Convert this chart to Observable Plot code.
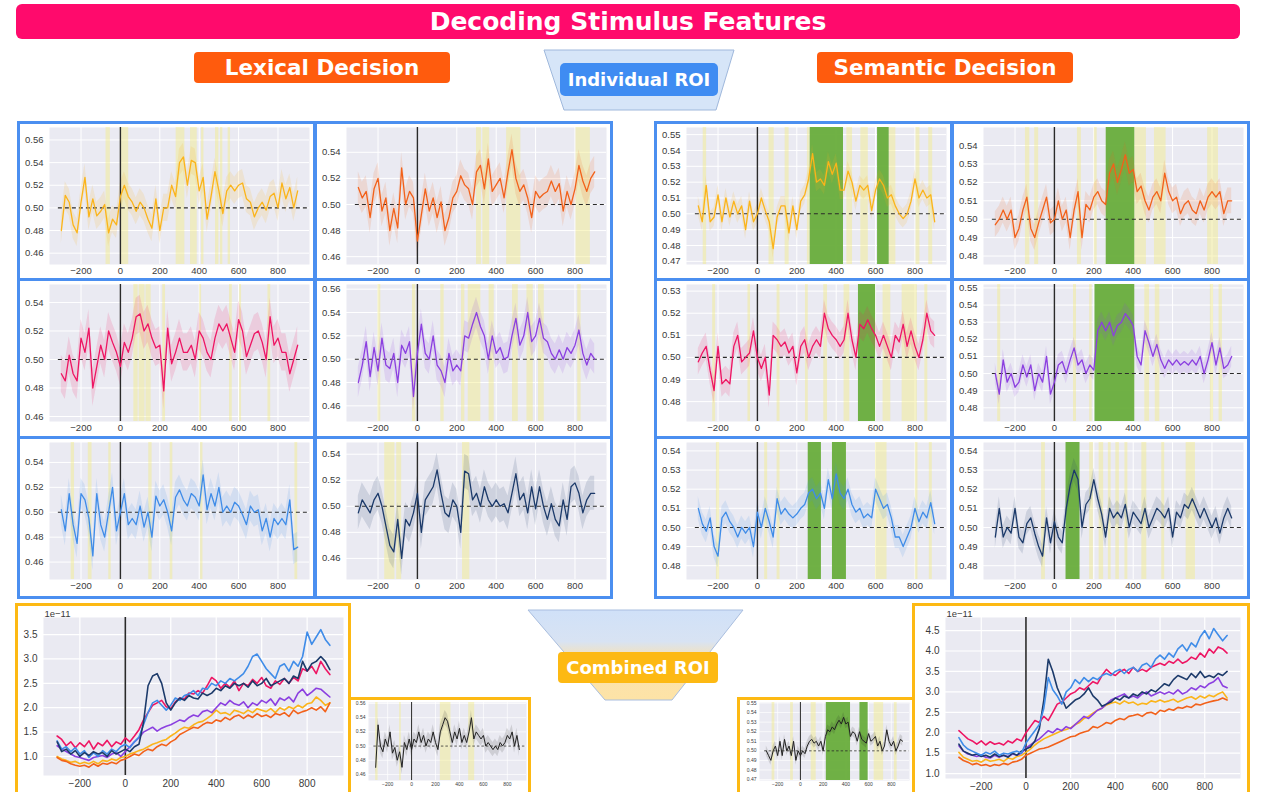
<!DOCTYPE html>
<html>
<head>
<meta charset="utf-8">
<script src="https://cdn.jsdelivr.net/npm/d3@7"></script>
<script src="https://cdn.jsdelivr.net/npm/@observablehq/plot@0.6"></script>
<style>
  body { margin: 0; background: #fff; }
  #page { position: relative; width: 1261px; height: 792px; overflow: hidden; background: #fff; }
  .tag { position: absolute; box-sizing: border-box; display: flex; align-items: center; justify-content: center;
         color: #fff; font-family: "DejaVu Sans", Verdana, sans-serif; font-weight: bold; white-space: nowrap; }
  .cell { position: absolute; box-sizing: border-box; background: #fff; }
</style>
</head>
<body>
<div id="page">
  <svg id="decor" width="1261" height="792" style="position:absolute;left:0;top:0">
    <defs>
      <linearGradient id="funnel" x1="0" y1="0" x2="0" y2="1">
        <stop offset="0" stop-color="#d0e1f8"/>
        <stop offset="0.35" stop-color="#d8e3f3"/>
        <stop offset="0.55" stop-color="#fbe2ae"/>
        <stop offset="1" stop-color="#fde3a6"/>
      </linearGradient>
    </defs>
    <polygon points="544,50 734,50 716,110 564,110" fill="#d6e5f8" stroke="#9fb8dc" stroke-width="1"/>
    <polygon points="528,610 743,610 672,700 605,700" fill="url(#funnel)" stroke="#a9bedf" stroke-width="1"/>
  </svg>
  <div class="tag" style="left:16px;top:4px;width:1224px;height:35px;background:#ff0a6c;border-radius:6px;font-size:25px">Decoding Stimulus Features</div>
  <div class="tag" style="left:194px;top:52px;width:256px;height:31px;background:#ff5b0d;border-radius:4px;font-size:21.5px">Lexical Decision</div>
  <div class="tag" style="left:817px;top:52px;width:256px;height:31px;background:#ff5b0d;border-radius:4px;font-size:21.5px">Semantic Decision</div>
  <div class="tag" style="left:560px;top:63px;width:158px;height:33px;background:#3f8cf2;border-radius:5px;font-size:18px">Individual ROI</div>
  <div class="tag" style="left:558px;top:652px;width:160px;height:31px;background:#fdb913;border-radius:4px;font-size:18px">Combined ROI</div>
</div>
<script>
// Sampling grid of the decoding time courses (ms relative to stimulus onset)
const times = d3.range(-300, 901, 20);
const xTicks = [-200, 0, 200, 400, 600, 800];

// ---- Lexical decision: AUC per ROI ----
const lexYellow = [0.480,0.511,0.505,0.485,0.478,0.505,0.527,0.492,0.508,0.493,0.497,0.503,0.478,0.490,0.485,
  0.510,0.520,0.510,0.505,0.497,0.505,0.500,0.490,0.482,0.508,
  0.480,0.500,0.500,0.520,0.510,0.540,0.545,0.520,0.542,0.540,
  0.515,0.527,0.490,0.510,0.532,0.515,0.495,0.515,0.520,0.515,
  0.520,0.522,0.508,0.505,0.492,0.500,0.505,0.498,0.510,0.513,
  0.500,0.522,0.508,0.518,0.500,0.515];
const lexOrange = [0.513,0.505,0.510,0.490,0.512,0.520,0.495,0.505,0.480,0.497,0.482,0.528,0.500,0.510,0.505,
  0.472,0.492,0.512,0.495,0.505,0.490,0.502,0.480,0.490,0.505,
  0.510,0.522,0.515,0.512,0.500,0.525,0.530,0.512,0.535,0.510,
  0.515,0.520,0.505,0.525,0.542,0.520,0.510,0.515,0.505,0.490,
  0.510,0.505,0.508,0.510,0.518,0.510,0.516,0.495,0.510,0.500,
  0.512,0.530,0.518,0.510,0.520,0.525];
const lexPink = [0.490,0.485,0.503,0.490,0.485,0.515,0.505,0.522,0.480,0.495,0.510,0.500,0.520,0.512,0.505,
  0.495,0.512,0.505,0.515,0.530,0.532,0.520,0.525,0.515,0.508,
  0.510,0.478,0.522,0.497,0.505,0.515,0.505,0.505,0.510,0.500,
  0.520,0.515,0.505,0.500,0.515,0.525,0.520,0.525,0.515,0.505,
  0.528,0.520,0.502,0.510,0.518,0.520,0.512,0.500,0.530,0.510,
  0.515,0.505,0.505,0.490,0.500,0.510];
const lexPurple = [0.480,0.495,0.515,0.485,0.510,0.490,0.518,0.495,0.492,0.505,0.480,0.512,0.505,0.515,0.468,
  0.505,0.530,0.505,0.500,0.520,0.495,0.490,0.480,0.505,0.490,
  0.495,0.490,0.520,0.518,0.530,0.540,0.528,0.520,0.500,0.520,
  0.505,0.510,0.500,0.502,0.520,0.535,0.512,0.520,0.540,0.515,
  0.520,0.535,0.518,0.515,0.505,0.500,0.508,0.500,0.510,0.505,
  0.512,0.525,0.505,0.495,0.505,0.500];
const lexBlue = [0.502,0.485,0.515,0.490,0.475,0.515,0.510,0.495,0.465,0.515,0.490,0.480,0.500,0.520,0.485,
  0.500,0.515,0.490,0.495,0.490,0.505,0.488,0.500,0.480,0.513,
  0.505,0.510,0.500,0.485,0.512,0.518,0.510,0.505,0.515,0.512,
  0.505,0.530,0.502,0.515,0.505,0.520,0.500,0.505,0.500,0.508,
  0.505,0.498,0.490,0.505,0.500,0.502,0.485,0.495,0.480,0.495,
  0.490,0.495,0.490,0.510,0.470,0.472];
const lexNavy = [0.495,0.505,0.500,0.495,0.505,0.510,0.500,0.485,0.470,0.465,0.490,0.460,0.490,0.485,0.495,
  0.510,0.480,0.505,0.510,0.515,0.528,0.510,0.495,0.492,0.505,
  0.500,0.480,0.527,0.525,0.505,0.510,0.500,0.515,0.505,0.500,
  0.505,0.500,0.502,0.495,0.510,0.525,0.505,0.510,0.495,0.515,
  0.498,0.515,0.500,0.490,0.502,0.490,0.485,0.505,0.490,0.515,
  0.518,0.510,0.495,0.505,0.510,0.510];

// ---- Semantic decision: AUC per ROI ----
const semYellow = [0.505,0.495,0.518,0.495,0.498,0.512,0.495,0.510,0.498,0.508,0.500,0.505,0.490,0.508,0.495,
  0.500,0.510,0.502,0.495,0.478,0.498,0.505,0.505,0.488,0.505,
  0.490,0.508,0.512,0.522,0.538,0.520,0.522,0.518,0.533,0.525,
  0.532,0.515,0.515,0.527,0.520,0.508,0.518,0.515,0.518,0.502,
  0.515,0.522,0.518,0.510,0.512,0.505,0.500,0.497,0.500,0.508,
  0.522,0.510,0.515,0.510,0.512,0.495];
const semOrange = [0.497,0.500,0.505,0.500,0.505,0.490,0.495,0.505,0.512,0.495,0.490,0.498,0.505,0.512,0.498,
  0.500,0.510,0.500,0.505,0.490,0.505,0.515,0.490,0.508,0.505,
  0.512,0.515,0.510,0.508,0.525,0.530,0.520,0.527,0.535,0.525,
  0.527,0.515,0.518,0.510,0.505,0.512,0.515,0.510,0.525,0.515,
  0.510,0.512,0.503,0.508,0.510,0.505,0.503,0.510,0.505,0.512,
  0.515,0.512,0.515,0.503,0.510,0.510];
const semPink = [0.498,0.502,0.505,0.494,0.485,0.505,0.488,0.490,0.488,0.505,0.510,0.498,0.500,0.502,0.512,
  0.500,0.495,0.500,0.483,0.510,0.508,0.505,0.507,0.502,0.505,
  0.493,0.505,0.508,0.500,0.505,0.508,0.505,0.520,0.513,0.510,
  0.508,0.505,0.508,0.520,0.508,0.500,0.515,0.513,0.517,0.513,
  0.510,0.505,0.510,0.505,0.500,0.510,0.507,0.515,0.505,0.512,
  0.505,0.500,0.508,0.520,0.512,0.510];
const semPurple = [0.500,0.488,0.508,0.495,0.500,0.492,0.495,0.505,0.498,0.505,0.490,0.500,0.495,0.510,0.488,
  0.495,0.505,0.507,0.500,0.508,0.515,0.505,0.508,0.500,0.505,
  0.502,0.525,0.530,0.525,0.530,0.522,0.528,0.530,0.535,0.532,
  0.528,0.510,0.505,0.525,0.518,0.510,0.517,0.508,0.503,0.508,
  0.505,0.508,0.505,0.507,0.505,0.508,0.505,0.510,0.500,0.508,
  0.518,0.505,0.515,0.503,0.505,0.510];
const semBlue = [0.510,0.502,0.498,0.505,0.490,0.485,0.505,0.508,0.503,0.500,0.495,0.500,0.497,0.500,0.490,
  0.508,0.500,0.510,0.503,0.495,0.515,0.507,0.510,0.507,0.505,
  0.507,0.510,0.512,0.518,0.520,0.515,0.518,0.510,0.525,0.515,
  0.528,0.518,0.515,0.520,0.512,0.508,0.510,0.505,0.507,0.505,
  0.520,0.515,0.510,0.512,0.505,0.495,0.495,0.490,0.495,0.500,
  0.510,0.503,0.508,0.505,0.513,0.502];
const semNavy = [0.495,0.510,0.495,0.500,0.497,0.510,0.495,0.492,0.502,0.505,0.497,0.490,0.485,0.505,0.492,
  0.503,0.495,0.492,0.510,0.522,0.530,0.525,0.500,0.512,0.515,
  0.525,0.515,0.507,0.495,0.510,0.505,0.508,0.505,0.512,0.500,
  0.508,0.505,0.502,0.510,0.500,0.505,0.510,0.508,0.505,0.510,
  0.495,0.508,0.505,0.512,0.510,0.515,0.510,0.505,0.510,0.505,
  0.500,0.505,0.497,0.505,0.510,0.505];

// ---- Combined ROI decoding ----
const lexCombined = [0.470,0.530,0.500,0.492,0.510,0.500,0.520,0.490,0.498,0.480,0.492,0.470,0.505,0.495,0.510,
  0.495,0.510,0.505,0.520,0.505,0.515,0.500,0.510,0.505,0.520,
  0.505,0.495,0.520,0.530,0.540,0.535,0.520,0.505,0.520,0.510,
  0.525,0.505,0.515,0.505,0.520,0.540,0.510,0.520,0.515,0.510,
  0.515,0.500,0.505,0.500,0.495,0.500,0.495,0.505,0.500,0.505,
  0.515,0.510,0.520,0.500,0.515,0.495];
const semCombined = [0.500,0.495,0.490,0.500,0.505,0.495,0.510,0.495,0.512,0.500,0.505,0.495,0.510,0.490,0.500,
  0.495,0.500,0.497,0.505,0.510,0.512,0.508,0.510,0.505,0.510,
  0.500,0.515,0.522,0.520,0.525,0.522,0.528,0.532,0.528,0.535,
  0.528,0.530,0.515,0.520,0.518,0.510,0.520,0.512,0.510,0.508,
  0.518,0.510,0.512,0.515,0.505,0.510,0.500,0.505,0.522,0.510,
  0.505,0.510,0.500,0.505,0.512,0.510];

// ---- Signal power per ROI (units of 1e-11) ----
const lexPowerPink = [1.42,1.35,1.22,1.30,1.18,1.28,1.20,1.32,1.15,1.28,1.22,1.33,1.20,1.30,1.25,
  1.38,1.30,1.42,1.55,1.75,1.90,2.05,2.10,2.15,2.02,
  1.98,2.12,2.20,2.18,2.30,2.28,2.35,2.30,2.45,2.62,
  2.55,2.40,2.50,2.42,2.55,2.35,2.50,2.45,2.58,2.50,
  2.62,2.45,2.40,2.55,2.48,2.60,2.50,2.62,2.55,2.80,
  2.75,2.85,2.70,2.95,2.80,2.68];
const lexPowerBlue = [1.32,1.15,1.20,1.10,1.18,1.05,1.12,0.98,1.08,1.00,1.12,1.05,1.15,1.10,1.20,
  1.25,1.18,1.30,1.40,1.65,1.90,2.10,2.15,2.05,1.95,
  2.05,2.20,2.15,2.25,2.28,2.35,2.25,2.40,2.38,2.50,
  2.45,2.55,2.50,2.60,2.55,2.62,2.70,2.85,3.05,3.10,
  2.95,2.80,2.70,2.60,2.85,2.90,2.75,2.95,2.85,3.05,
  3.55,3.30,3.45,3.60,3.40,3.28];
const lexPowerNavy = [1.30,1.10,1.15,1.05,1.12,1.00,1.08,1.02,1.10,1.05,1.08,1.00,1.12,1.05,1.10,
  1.15,1.10,1.20,1.25,1.70,2.45,2.65,2.70,2.50,2.10,
  1.95,2.10,2.20,2.15,2.25,2.20,2.18,2.30,2.25,2.30,
  2.40,2.35,2.45,2.40,2.50,2.45,2.50,2.42,2.55,2.45,
  2.50,2.60,2.45,2.50,2.55,2.60,2.50,2.65,2.60,2.95,
  2.75,2.90,2.95,3.05,2.95,2.78];
const lexPowerPurple = [1.22,1.15,1.10,1.05,1.00,0.98,0.95,0.92,0.98,1.00,1.02,0.98,1.05,1.08,1.00,
  1.10,1.20,1.30,1.38,1.50,1.55,1.60,1.52,1.58,1.62,
  1.65,1.70,1.75,1.72,1.80,1.85,1.82,1.92,1.95,1.90,
  2.00,2.10,2.05,2.15,2.08,2.05,2.12,2.00,2.10,2.05,
  2.15,2.10,2.18,2.05,2.20,2.15,2.22,2.12,2.30,2.38,
  2.25,2.32,2.40,2.38,2.30,2.22];
const lexPowerYellow = [1.00,0.95,0.92,0.88,0.90,0.85,0.88,0.85,0.90,0.85,0.92,0.90,0.95,0.92,0.98,
  1.00,1.05,1.08,1.12,1.15,1.20,1.25,1.28,1.32,1.35,
  1.42,1.48,1.55,1.60,1.58,1.65,1.70,1.72,1.78,1.85,
  1.95,1.88,1.90,1.85,1.95,1.92,1.88,1.95,1.90,1.98,
  1.95,1.92,1.98,1.90,2.00,1.95,2.02,1.98,2.05,2.00,
  2.08,2.10,2.22,2.15,2.05,2.10];
const lexPowerOrange = [0.98,0.92,0.90,0.85,0.82,0.80,0.82,0.78,0.85,0.80,0.86,0.84,0.88,0.85,0.92,
  0.95,1.00,1.05,1.02,1.10,1.15,1.12,1.20,1.25,1.22,
  1.30,1.35,1.45,1.50,1.55,1.60,1.58,1.65,1.70,1.68,
  1.75,1.72,1.80,1.75,1.82,1.85,1.78,1.85,1.80,1.88,
  1.82,1.85,1.80,1.88,1.85,1.90,1.82,1.95,1.88,1.92,
  1.95,2.00,1.95,2.02,1.92,2.10];

const semPowerPink = [2.05,1.95,1.85,1.80,1.72,1.80,1.70,1.78,1.72,1.75,1.70,1.80,1.75,1.85,1.80,
  2.00,2.15,2.30,2.25,2.40,2.30,2.50,2.70,2.75,2.85,
  2.95,3.00,3.10,3.05,3.15,3.25,3.20,3.40,3.55,3.45,
  3.40,3.50,3.55,3.45,3.60,3.50,3.55,3.50,3.60,3.65,
  3.70,3.65,3.75,3.70,3.80,3.70,3.75,3.85,3.80,3.95,
  3.85,4.05,3.95,4.10,4.05,3.95];
const semPowerBlue = [1.88,1.70,1.60,1.55,1.50,1.45,1.52,1.48,1.55,1.45,1.50,1.48,1.52,1.55,1.50,
  1.75,1.90,2.05,2.20,2.60,3.35,3.05,2.90,2.70,3.00,
  3.10,3.30,3.20,3.35,3.25,3.35,3.30,3.40,3.45,3.40,
  3.50,3.55,3.45,3.55,3.60,3.50,3.65,3.70,3.60,3.80,
  3.90,3.80,3.95,3.85,4.05,4.15,4.00,4.20,4.10,4.35,
  4.50,4.30,4.55,4.40,4.25,4.38];
const semPowerNavy = [1.72,1.55,1.50,1.45,1.48,1.42,1.45,1.40,1.48,1.42,1.45,1.40,1.50,1.45,1.55,
  1.60,1.65,1.80,2.10,2.80,3.80,3.50,3.10,2.85,2.60,
  2.70,2.80,2.85,2.95,3.10,2.90,2.80,2.65,2.70,2.75,
  2.85,2.80,2.90,2.85,2.95,2.90,3.00,2.95,3.05,3.00,
  3.10,3.20,3.15,3.30,3.40,3.35,3.30,3.45,3.35,3.50,
  3.35,3.40,3.35,3.45,3.40,3.50];
const semPowerPurple = [1.68,1.55,1.48,1.45,1.42,1.45,1.40,1.38,1.45,1.40,1.45,1.42,1.48,1.45,1.50,
  1.62,1.70,1.78,1.85,1.95,2.05,2.00,2.10,2.05,2.15,
  2.10,2.20,2.30,2.40,2.35,2.45,2.55,2.60,2.70,2.80,
  2.85,2.90,2.95,2.85,2.90,2.85,2.95,3.00,2.90,2.95,
  3.00,2.95,3.00,2.95,3.05,2.95,3.00,3.10,3.05,3.15,
  3.10,3.20,3.25,3.35,3.15,3.10];
const semPowerYellow = [1.52,1.40,1.35,1.30,1.32,1.28,1.35,1.30,1.32,1.35,1.30,1.38,1.35,1.42,1.45,
  1.52,1.60,1.70,1.78,1.85,1.90,1.95,2.00,2.05,2.08,
  2.12,2.20,2.25,2.35,2.40,2.48,2.55,2.60,2.68,2.72,
  2.75,2.70,2.78,2.72,2.75,2.68,2.72,2.70,2.78,2.75,
  2.80,2.75,2.78,2.82,2.75,2.80,2.85,2.88,2.82,2.90,
  2.85,2.92,2.88,2.95,3.00,2.85];
const semPowerOrange = [1.40,1.32,1.28,1.22,1.25,1.20,1.22,1.18,1.22,1.20,1.25,1.22,1.28,1.30,1.35,
  1.45,1.50,1.55,1.60,1.62,1.65,1.70,1.75,1.80,1.85,
  1.90,1.92,1.98,2.02,2.05,2.15,2.12,2.18,2.25,2.22,
  2.30,2.35,2.32,2.40,2.42,2.45,2.40,2.48,2.50,2.45,
  2.55,2.52,2.58,2.55,2.62,2.60,2.65,2.62,2.70,2.68,
  2.72,2.75,2.78,2.80,2.85,2.80];

// ---- Significant windows (ms): pale yellow = uncorrected, green = corrected ----
const lexYellowSig = [[-73,-51],[0,42],[283,327],[356,390],[412,424],[483,500],[508,520],[547,559]];
const lexOrangeSig = [[300,325],[332,367],[453,525],[805,878]];
const lexPinkSig = [[68,90],[95,125],[130,156],[215,229],[402,412],[554,568],[605,615],[749,763]];
const lexPurpleSig = [[-200,-186],[-25,-8],[119,136],[224,241],[258,322],[364,390],[483,512],[556,588],[615,644],[814,831]];
const lexBlueSig = [[-250,-233],[-163,-144],[-59,-47],[144,161],[253,266],[407,419],[886,900]];
const lexNavySig = [[-166,-114],[-105,-80],[229,266]];
const semYellowSig = [[-275,-258],[59,85],[141,161],[254,268],[454,483],[525,563],[669,703],[805,825],[870,890]];
const semYellowCorr = [[268,437],[610,669]];
const semOrangeSig = [[-147,-125],[-100,-80],[117,137],[203,217],[408,467],[508,567],[778,833]];
const semOrangeCorr = [[263,408]];
const semPinkSig = [[-227,-212],[-48,-35],[100,115],[244,258],[337,356],[440,469],[638,677],[735,812],[850,865]];
const semPinkCorr = [[513,600]];
const semPurpleSig = [[-288,-273],[97,112],[179,192],[459,483],[512,535],[792,808],[836,853]];
const semPurpleCorr = [[206,408]];
const semBlueSig = [[-208,-192],[37,52],[100,115],[600,658],[802,815],[873,888]];
const semBlueCorr = [[258,325],[381,452]];
const semNavySig = [[-65,-46],[179,198],[227,250],[274,288],[312,330],[358,373],[444,469],[545,560],[669,716]];
const semNavyCorr = [[59,130]];
const lexCombinedSig = [[-300,-280],[-100,-86],[240,329],[477,527]];
const semCombinedSig = [[-249,-225],[-86,-62],[95,139],[649,732],[827,851]];
const semCombinedCorr = [[228,441],[524,596]];

// ROI colours
const C = { yellow: "#fbb41a", orange: "#f2611a", pink: "#ee1563", purple: "#8b3fe0",
            blue: "#3f8ce8", navy: "#1c3a6a", black: "#222222" };

const page = document.getElementById("page");

function cellBox(x, y, w, h, color) {
  const d = document.createElement("div");
  d.className = "cell";
  Object.assign(d.style, { left: x + "px", top: y + "px", width: w + "px", height: h + "px",
                           border: `3px solid ${color}` });
  page.appendChild(d);
}
function place(node, x, y) {
  node.style.position = "absolute";
  node.style.left = x + "px";
  node.style.top = y + "px";
  page.appendChild(node);
}

// One decoding time course with its confidence band and significance shading
function decodingPanel(p) {
  const rows = times.map((t, i) => ({ t, v: p.values[i] }));
  const e = p.err;
  return Plot.plot({
    width: p.w, height: p.h,
    marginLeft: p.ml, marginRight: p.mr, marginTop: p.mt, marginBottom: p.mb,
    style: { background: "transparent", fontFamily: "'Liberation Sans', Arial, sans-serif",
             fontSize: p.fs + "px", color: "#3a3a3a" },
    x: { domain: [-360, 960] },
    y: { domain: p.yDomain },
    marks: [
      Plot.frame({ fill: "#eaeaf2", stroke: "none" }),
      Plot.gridX(xTicks, { stroke: "#fff", strokeOpacity: 1, strokeWidth: p.gw }),
      Plot.gridY(p.yTicks, { stroke: "#fff", strokeOpacity: 1, strokeWidth: p.gw }),
      Plot.rect(p.sig || [], { x1: d => d[0], x2: d => d[1], fill: "#f3eb7e", fillOpacity: 0.42 }),
      Plot.rect(p.corr || [], { x1: d => d[0], x2: d => d[1], fill: "#68ad3b", fillOpacity: 0.95 }),
      Plot.areaY(rows, { x: "t", y1: d => d.v - e, y2: d => d.v + e, fill: p.color, fillOpacity: 0.14, clip: true }),
      Plot.ruleX([0], { stroke: "#2a2a2a", strokeWidth: p.zw }),
      Plot.ruleY([0.5], { x1: -315, x2: 955, stroke: "#2a2a2a", strokeWidth: p.dw, strokeDasharray: p.dash }),
      Plot.lineY(rows, { x: "t", y: "v", stroke: p.color, strokeWidth: p.lw, clip: true }),
      Plot.axisX(xTicks, { tickSize: 0, tickPadding: p.xpad, label: null }),
      Plot.axisY(p.yTicks, { tickSize: 0, tickPadding: p.ypad, tickFormat: d3.format(".2f"), label: null })
    ]
  });
}

// Signal power of all six ROIs on one axis
function powerPanel(p) {
  const lines = p.series.map(s =>
    Plot.lineY(times.map((t, i) => ({ t, v: s.values[i] })),
      { x: "t", y: "v", stroke: s.color, strokeWidth: 1.6, clip: true }));
  return Plot.plot({
    width: p.w, height: p.h,
    marginLeft: p.ml, marginRight: p.mr, marginTop: p.mt, marginBottom: p.mb,
    style: { background: "transparent", fontFamily: "'Liberation Sans', Arial, sans-serif",
             fontSize: "10px", color: "#3a3a3a", overflow: "visible" },
    x: { domain: [-360, 960] },
    y: { domain: p.yDomain },
    marks: [
      Plot.frame({ fill: "#eaeaf2", stroke: "none" }),
      Plot.gridX(xTicks, { stroke: "#fff", strokeOpacity: 1, strokeWidth: 1.2 }),
      Plot.gridY(p.yTicks, { stroke: "#fff", strokeOpacity: 1, strokeWidth: 1.2 }),
      Plot.ruleX([0], { stroke: "#2a2a2a", strokeWidth: 1.6 }),
      ...lines,
      Plot.text(["1e\u221211"], { frameAnchor: "top-left", dy: -7, dx: 1, textAnchor: "start", fontSize: 9.5 }),
      Plot.axisX(xTicks, { tickSize: 0, tickPadding: 4, label: null }),
      Plot.axisY(p.yTicks, { tickSize: 0, tickPadding: 6, tickFormat: d3.format(".1f"), label: null })
    ]
  });
}

// ---- Individual ROI grids ----
const BLUE_EDGE = "#4b8ff0";
const GOLD_EDGE = "#fdb913";
const rowsY = [121, 278, 436];
const rowsH = [160, 161, 163];

const lexPanels = [
  { values: lexYellow, color: C.yellow, err: 0.012, sig: lexYellowSig, yDomain: [0.450, 0.571], yTicks: [0.46,0.48,0.50,0.52,0.54,0.56] },
  { values: lexOrange, color: C.orange, err: 0.012, sig: lexOrangeSig, yDomain: [0.454, 0.559], yTicks: [0.46,0.48,0.50,0.52,0.54] },
  { values: lexPink, color: C.pink, err: 0.013, sig: lexPinkSig, yDomain: [0.4565, 0.5526], yTicks: [0.46,0.48,0.50,0.52,0.54] },
  { values: lexPurple, color: C.purple, err: 0.013, sig: lexPurpleSig, yDomain: [0.4466, 0.564], yTicks: [0.46,0.48,0.50,0.52,0.54,0.56] },
  { values: lexBlue, color: C.blue, err: 0.012, sig: lexBlueSig, yDomain: [0.446, 0.556], yTicks: [0.46,0.48,0.50,0.52,0.54] },
  { values: lexNavy, color: C.navy, err: 0.013, sig: lexNavySig, yDomain: [0.4438, 0.549], yTicks: [0.46,0.48,0.50,0.52,0.54] }
];
const semPanels = [
  { values: semYellow, color: C.yellow, err: 0.006, sig: semYellowSig, corr: semYellowCorr, yDomain: [0.468, 0.5545], yTicks: [0.47,0.48,0.49,0.50,0.51,0.52,0.53,0.54,0.55] },
  { values: semOrange, color: C.orange, err: 0.007, sig: semOrangeSig, corr: semOrangeCorr, yDomain: [0.4754, 0.5498], yTicks: [0.48,0.49,0.50,0.51,0.52,0.53,0.54] },
  { values: semPink, color: C.pink, err: 0.006, sig: semPinkSig, corr: semPinkCorr, yDomain: [0.471, 0.533], yTicks: [0.48,0.49,0.50,0.51,0.52,0.53] },
  { values: semPurple, color: C.purple, err: 0.006, sig: semPurpleSig, corr: semPurpleCorr, yDomain: [0.472, 0.552], yTicks: [0.48,0.49,0.50,0.51,0.52,0.53,0.54,0.55] },
  { values: semBlue, color: C.blue, err: 0.006, sig: semBlueSig, corr: semBlueCorr, yDomain: [0.4728, 0.5444], yTicks: [0.48,0.49,0.50,0.51,0.52,0.53,0.54] },
  { values: semNavy, color: C.navy, err: 0.006, sig: semNavySig, corr: semNavyCorr, yDomain: [0.4728, 0.5444], yTicks: [0.48,0.49,0.50,0.51,0.52,0.53,0.54] }
];

function drawGrid(panels, colX) {
  panels.forEach((p, i) => {
    const r = Math.floor(i / 2), c = i % 2;
    cellBox(colX[c], rowsY[r], 299, rowsH[r], BLUE_EDGE);
  });
  panels.forEach((p, i) => {
    const r = Math.floor(i / 2), c = i % 2;
    const h = rowsH[r] - 6;
    const svg = decodingPanel(Object.assign({
      w: 293, h, ml: 29, mr: 4, mt: 3, mb: h - 3 - 137, fs: 9.5, gw: 1,
      zw: 1.4, dw: 1.1, dash: "4,3", lw: 1.3, xpad: 3, ypad: 6
    }, p));
    place(svg, colX[c] + 3, rowsY[r] + 3);
  });
}
drawGrid(lexPanels, [17, 314]);
drawGrid(semPanels, [654, 951]);

// ---- Combined ROI panels ----
cellBox(15, 603, 336, 200, GOLD_EDGE);
cellBox(912, 603, 338, 200, GOLD_EDGE);
cellBox(348, 697, 183, 105, GOLD_EDGE);
cellBox(737, 697, 178, 105, GOLD_EDGE);

place(powerPanel({
  w: 330, h: 187, ml: 25, mr: 5, mt: 11, mb: 18, yDomain: [0.61, 3.85],
  yTicks: [1.0, 1.5, 2.0, 2.5, 3.0, 3.5],
  series: [
    { values: lexPowerYellow, color: C.yellow }, { values: lexPowerOrange, color: C.orange },
    { values: lexPowerPurple, color: C.purple }, { values: lexPowerPink, color: C.pink },
    { values: lexPowerBlue, color: C.blue }, { values: lexPowerNavy, color: C.navy }
  ]
}), 18, 606);

place(powerPanel({
  w: 332, h: 187, ml: 30, mr: 7, mt: 11, mb: 15, yDomain: [0.88, 4.82],
  yTicks: [1.0, 1.5, 2.0, 2.5, 3.0, 3.5, 4.0, 4.5],
  series: [
    { values: semPowerOrange, color: C.orange }, { values: semPowerYellow, color: C.yellow },
    { values: semPowerPurple, color: C.purple }, { values: semPowerNavy, color: C.navy },
    { values: semPowerPink, color: C.pink }, { values: semPowerBlue, color: C.blue }
  ]
}), 915, 606);

place(decodingPanel({
  values: lexCombined, color: C.black, err: 0.010, sig: lexCombinedSig,
  yDomain: [0.4515, 0.5614], yTicks: [0.46,0.48,0.50,0.52,0.54,0.56],
  w: 177, h: 92, ml: 17, mr: 2, mt: 2, mb: 12, fs: 5, gw: 0.7,
  zw: 1, dw: 0.8, dash: "2.5,2", lw: 1, xpad: 2, ypad: 3
}), 351, 700);

place(decodingPanel({
  values: semCombined, color: C.black, err: 0.005, sig: semCombinedSig, corr: semCombinedCorr,
  yDomain: [0.469, 0.5505], yTicks: [0.47,0.48,0.49,0.50,0.51,0.52,0.53,0.54,0.55],
  w: 172, h: 92, ml: 19, mr: 3, mt: 2, mb: 12, fs: 5, gw: 0.7,
  zw: 1, dw: 0.8, dash: "2.5,2", lw: 1, xpad: 2, ypad: 3
}), 740, 700);
</script>
</body>
</html>
